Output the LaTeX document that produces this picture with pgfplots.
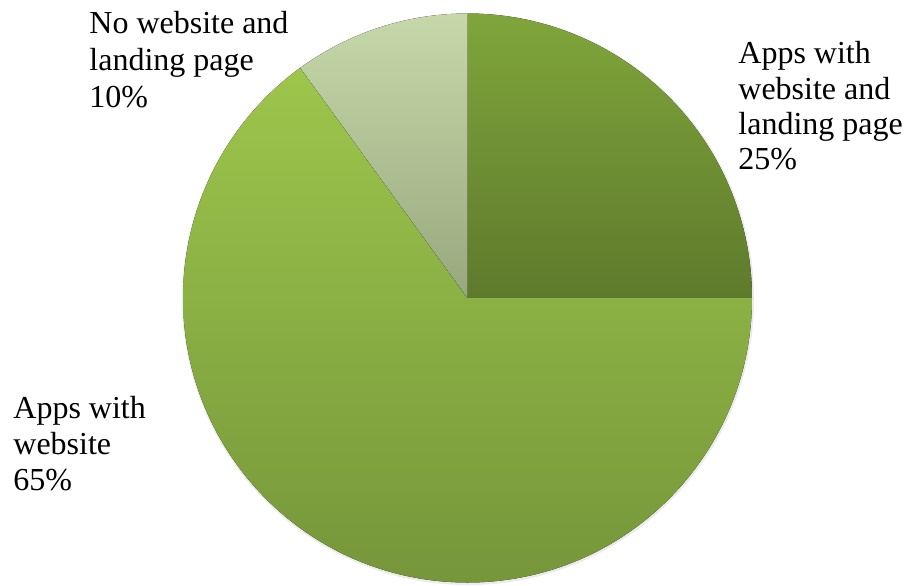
\documentclass[border=0pt]{standalone}
\usepackage{fontspec}
\setmainfont{Liberation Serif}
\newfontfamily\lblfont{Liberation Serif}
\usepackage{pgfplots}
\pgfplotsset{compat=1.18}
\usepackage{pgfplotstable}

\pgfplotstableread{
label value
A 25
B 65
C 10
}\piedata

\pgfplotstablegetelem{0}{value}\of\piedata \edef\va{\pgfplotsretval}
\pgfplotstablegetelem{1}{value}\of\piedata \edef\vb{\pgfplotsretval}
\pgfplotstablegetelem{2}{value}\of\piedata \edef\vc{\pgfplotsretval}
\pgfmathsetmacro\aA{90}
\pgfmathsetmacro\aB{90-3.6*\va}
\pgfmathsetmacro\aC{\aB-3.6*\vb}
\pgfmathsetmacro\aD{\aC-3.6*\vc}

\definecolor{aTop}{HTML}{80A53B}
\definecolor{aBot}{HTML}{5E7A2C}
\definecolor{bTop}{HTML}{9DC64C}
\definecolor{bBot}{HTML}{76963A}
\definecolor{cTop}{HTML}{C6D8A9}
\definecolor{cBot}{HTML}{98A87E}

\begin{document}
\begin{tikzpicture}
\begin{axis}[scale only axis, width=453pt, height=292pt,
  xmin=0, xmax=906, ymin=0, ymax=584, y dir=reverse,
  hide axis, clip=false]
\addplot[draw=none] coordinates {(0,0) (906,584)};
% soft shadow
\fill[black!8] (axis cs:468,299) circle[radius=143pt];
\fill[top color=aTop, bottom color=aBot] (axis cs:467.5,298) -- ++(\aA:142.25pt) arc[start angle=\aA, end angle=\aB, radius=142.25pt] -- cycle;
\fill[top color=bTop, bottom color=bBot] (axis cs:467.5,298) -- ++(\aB:142.25pt) arc[start angle=\aB, end angle=\aC, radius=142.25pt] -- cycle;
\fill[top color=cTop, bottom color=cBot] (axis cs:467.5,298) -- ++(\aC:142.25pt) arc[start angle=\aC, end angle=\aD, radius=142.25pt] -- cycle;
\tikzset{lbl/.style={anchor=base west, inner sep=0pt, font=\lblfont\fontsize{16}{19}\selectfont}}
\node[lbl] at (axis cs:89,33) {No website and};
\node[lbl] at (axis cs:89,70) {landing page};
\node[lbl] at (axis cs:89,107) {10\%};
\node[lbl] at (axis cs:738,63) {Apps with};
\node[lbl] at (axis cs:738,99) {website and};
\node[lbl] at (axis cs:738,134) {landing page};
\node[lbl] at (axis cs:738,169) {25\%};
\node[lbl] at (axis cs:13,418) {Apps with};
\node[lbl] at (axis cs:13,454) {website};
\node[lbl] at (axis cs:13,490) {65\%};
\end{axis}
\end{tikzpicture}
\end{document}
